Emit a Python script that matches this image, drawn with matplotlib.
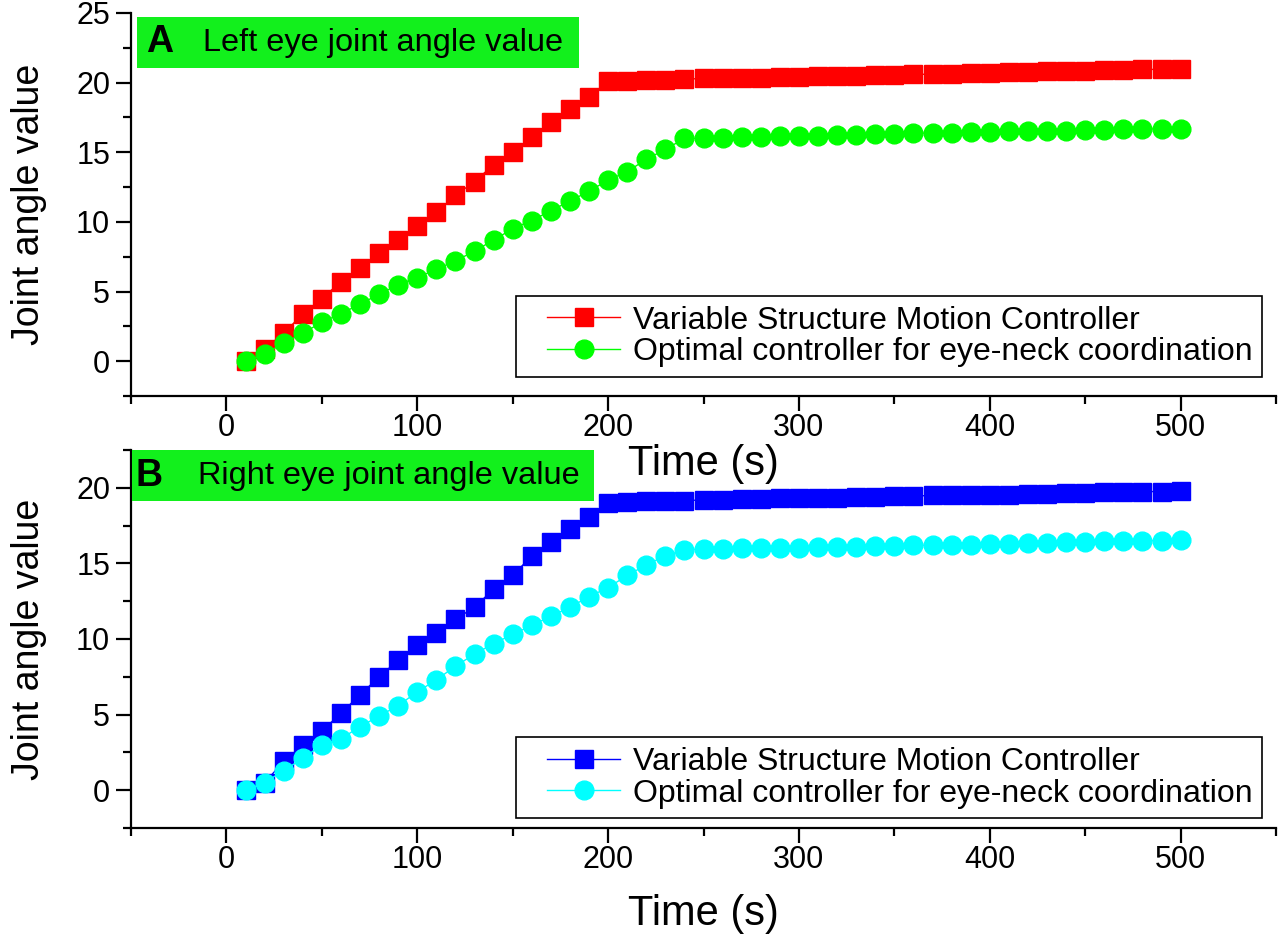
import matplotlib
matplotlib.use("Agg")
import matplotlib.pyplot as plt
from matplotlib.patches import Rectangle
from matplotlib.lines import Line2D
from matplotlib.legend_handler import HandlerLine2D
from matplotlib.ticker import MultipleLocator

plt.rcParams['font.family'] = ['Liberation Sans', 'DejaVu Sans']

# time axis (s)
t = [10, 20, 30, 40, 50, 60, 70, 80, 90, 100,
     110, 120, 130, 140, 150, 160, 170, 180, 190, 200,
     210, 220, 230, 240, 250, 260, 270, 280, 290, 300,
     310, 320, 330, 340, 350, 360, 370, 380, 390, 400,
     410, 420, 430, 440, 450, 460, 470, 480, 490, 500]

# A: left eye
left_vsmc = [0.0, 0.9, 2.0, 3.4, 4.5, 5.7, 6.7, 7.8, 8.7, 9.7,
             10.7, 11.9, 12.9, 14.1, 15.0, 16.1, 17.2, 18.1, 19.0, 20.1,
             20.15, 20.2, 20.2, 20.25, 20.3, 20.3, 20.35, 20.35, 20.4, 20.4,
             20.45, 20.5, 20.5, 20.55, 20.55, 20.6, 20.6, 20.65, 20.7, 20.7,
             20.75, 20.75, 20.8, 20.8, 20.85, 20.9, 20.9, 20.95, 20.95, 21.0]
left_opt = [0.0, 0.5, 1.3, 2.0, 2.8, 3.4, 4.1, 4.8, 5.5, 6.0,
            6.6, 7.2, 7.9, 8.7, 9.5, 10.1, 10.8, 11.5, 12.2, 13.0,
            13.6, 14.5, 15.2, 16.0, 16.0, 16.05, 16.1, 16.1, 16.15, 16.2,
            16.2, 16.25, 16.25, 16.3, 16.3, 16.35, 16.4, 16.4, 16.45, 16.45,
            16.5, 16.5, 16.55, 16.55, 16.6, 16.6, 16.65, 16.65, 16.7, 16.7]

# B: right eye
right_vsmc = [0.0, 0.5, 1.9, 3.0, 3.9, 5.1, 6.3, 7.5, 8.6, 9.6,
              10.4, 11.3, 12.1, 13.3, 14.2, 15.5, 16.4, 17.3, 18.1, 19.0,
              19.05, 19.1, 19.1, 19.15, 19.2, 19.2, 19.25, 19.25, 19.3, 19.3,
              19.35, 19.35, 19.4, 19.4, 19.45, 19.45, 19.5, 19.5, 19.5, 19.55,
              19.55, 19.6, 19.6, 19.65, 19.65, 19.7, 19.7, 19.75, 19.75, 19.8]
right_opt = [0.0, 0.5, 1.3, 2.1, 3.0, 3.4, 4.2, 4.9, 5.6, 6.5,
             7.3, 8.2, 9.0, 9.7, 10.3, 10.9, 11.5, 12.1, 12.8, 13.4,
             14.2, 14.9, 15.5, 15.9, 15.95, 15.95, 16.0, 16.0, 16.05, 16.05,
             16.1, 16.1, 16.1, 16.15, 16.15, 16.2, 16.2, 16.25, 16.25, 16.3,
             16.3, 16.35, 16.35, 16.4, 16.4, 16.45, 16.45, 16.5, 16.5, 16.55]

labels = ["Variable Structure Motion Controller",
          "Optimal controller for eye-neck coordination"]
panels = [("A", "Left eye joint angle value", left_vsmc, left_opt, "#ff0000", "#00ff00", (-2.5, 25)),
          ("B", "Right eye joint angle value", right_vsmc, right_opt, "#0000ff", "#00ffff", (-2.5, 22.5))]

W, H = 1280, 942
fig = plt.figure(figsize=(12.8, 9.42), dpi=100)
ax_pos = [(131, 13, 396), (131, 450, 828)]   # left, top, bottom in px
legend_anchor = [0.05, 0.026]
xlabelpad = [1, 14]
box_pos = [(137, 17, 579, 68), (132, 450, 594, 501)]
txt_x = [(146, 203), (136, 198)]

for i, (letter, title, s1, s2, c1, c2, ylim) in enumerate(panels):
    l, tp, bt = ax_pos[i]
    ax = fig.add_axes([l / W, 1 - bt / H, (1276 - l) / W, (bt - tp) / H])
    ax.patch.set_visible(False)
    ax.plot(t, s1, '-', color=c1, lw=1, marker='s', ms=12.5, mec=c1, label=labels[0])
    ax.plot(t, s2, '-', color=c2, lw=1, marker='o', ms=13.5, mec=c2, label=labels[1])
    ax.set_xlim(-50, 550)
    ax.set_ylim(*ylim)
    ax.xaxis.set_major_locator(MultipleLocator(100))
    ax.xaxis.set_minor_locator(MultipleLocator(50))
    ax.yaxis.set_major_locator(MultipleLocator(5))
    ax.yaxis.set_minor_locator(MultipleLocator(2.5))
    for sp in ['top', 'right']:
        ax.spines[sp].set_visible(False)
    for sp in ['left', 'bottom']:
        ax.spines[sp].set_linewidth(1.6)
    ax.tick_params(which='major', direction='out', length=11, width=1.6, labelsize=22, pad=4)
    ax.tick_params(axis='x', which='major', pad=1)
    ax.tick_params(which='minor', direction='out', length=6, width=1.6)
    ax.set_xlabel("Time (s)", fontsize=30, labelpad=xlabelpad[i])
    ax.set_ylabel("Joint angle value", fontsize=27, labelpad=21)
    leg = ax.legend(loc='lower right', bbox_to_anchor=(0.988, legend_anchor[i]),
                    borderaxespad=0, fontsize=23, frameon=True, fancybox=False,
                    edgecolor='black', framealpha=1, numpoints=1,
                    handlelength=2.95, handletextpad=0.4, labelspacing=0.05,
                    borderpad=0.3,
                    handler_map={Line2D: HandlerLine2D(xpad=0.67)})
    leg.get_frame().set_linewidth(1.2)

    x0, y0, x1, y1 = box_pos[i]
    fig.patches.append(Rectangle((x0 / W, 1 - y1 / H), (x1 - x0) / W, (y1 - y0) / H,
                                 transform=fig.transFigure, facecolor='#12f01c',
                                 edgecolor='none', zorder=5))
    yc = 1 - (y0 + y1) / 2 / H
    fig.text(txt_x[i][0] / W, yc, letter, fontsize=27, fontweight='bold',
             ha='left', va='center', zorder=6)
    fig.text(txt_x[i][1] / W, yc, title, fontsize=23.4, ha='left', va='center', zorder=6)

fig.savefig("out.png", dpi=100)
